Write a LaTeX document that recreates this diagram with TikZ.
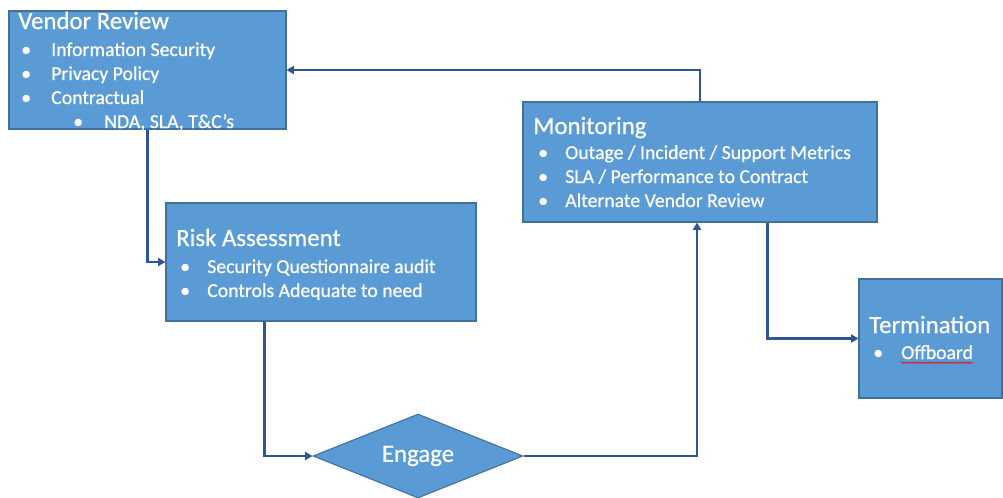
\documentclass[tikz,border=0pt]{standalone}
\usepackage{fontspec}
\setmainfont{Carlito}
\newfontfamily\epais[FakeBold=0.6]{Carlito}
\usetikzlibrary{shapes.geometric,arrows.meta,decorations.pathmorphing}
\definecolor{bleu}{HTML}{5B9BD5}
\definecolor{bord}{HTML}{41719C}
\definecolor{trait}{HTML}{2F5597}
\begin{document}
\begin{tikzpicture}[x=0.75pt,y=-0.75pt]
% Styles
\tikzstyle{boite}=[draw=bord,fill=bleu,line width=0.8pt,inner sep=0pt]
\tikzstyle{titre}=[anchor=base west,text=white,inner sep=0pt,font=\epais\fontsize{18.6}{22}\selectfont]
\tikzstyle{puce}=[anchor=base west,text=white,inner sep=0pt,font=\epais\fontsize{14.8}{18}\selectfont]
\tikzstyle{fleche}=[-{Triangle[length=5.5pt,width=6pt]},draw=trait,line width=1.7pt]
% Cadre
\useasboundingbox (0,0) rectangle (1003,497);
% Boites
\node[boite,minimum width=207.75pt,minimum height=88.5pt] (vr) at (147.5,70) {};
\node[boite,minimum width=232.5pt,minimum height=88.5pt] (ra) at (321,262) {};
\node[boite,minimum width=265.5pt,minimum height=90pt] (mo) at (700,162) {};
\node[boite,minimum width=107.25pt,minimum height=89.25pt] (te) at (930.5,338.5) {};
\node[boite,diamond,aspect=2.5,minimum width=157.5pt,minimum height=63pt,
  text=white,font=\epais\fontsize{18.6}{22}\selectfont] (eng) at (418,456) {Engage};
% Vendor Review
\node[titre] (vrT) at (18,29) {Vendor Review};
\foreach \t [count=\i] in {Information Security,Privacy Policy,Contractual}{
  \node[puce] (vrP\i) at (21,32+24*\i) {•};
  \node[puce] (vr\i) at (51,32+24*\i) {\t};
}
\node[puce] (vrP4) at (73,128) {•};
\node[puce] (vr4) at (104,128) {NDA, SLA, T\&C’s};
% Risk Assessment
\node[titre] (raT) at (176,246) {Risk Assessment};
\foreach \t [count=\i] in {Security Questionnaire audit,Controls Adequate to need}{
  \node[puce] (raP\i) at (180,249+24*\i) {•};
  \node[puce] (ra\i) at (207,249+24*\i) {\t};
}
% Monitoring
\node[titre] (moT) at (533,134) {Monitoring};
\foreach \t [count=\i] in {Outage / Incident / Support Metrics,SLA / Performance to Contract,Alternate Vendor Review}{
  \node[puce] (moP\i) at (538,135+24*\i) {•};
  \node[puce] (mo\i) at (565,135+24*\i) {\t};
}
% Termination
\node[titre] (teT) at (869,333) {Termination};
\node[puce] (teP1) at (873,359) {•};
\node[puce] (te1) at (901,359) {Offboard};
\draw[red,line width=0.5pt,decorate,decoration={snake,amplitude=0.5pt,segment length=2.2pt}]
  ([yshift=-2.5pt]te1.south west) -- ([yshift=-2.5pt]te1.south east);
% Fleches
\draw[fleche] (vr.south) |- (ra.west);
\draw[fleche] ([shift={(99,0)}]ra.south west) |- (eng.west);
\draw[fleche] (eng.east) -| ([shift={(-3,0)}]mo.south);
\draw[fleche] (mo.north) |- (vr.east);
\draw[fleche] ([shift={(-110,0)}]mo.south east) |- (te.west);
\end{tikzpicture}
\end{document}
